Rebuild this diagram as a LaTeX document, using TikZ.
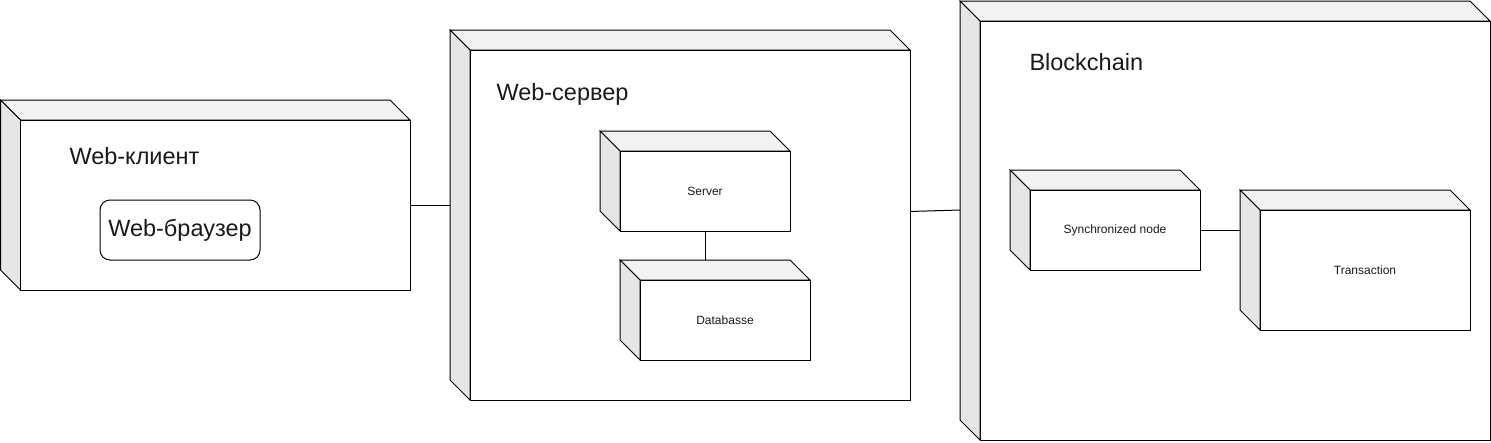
\documentclass[tikz,border=0pt]{standalone}
\usepackage{fontspec}
\setmainfont{Liberation Sans}
\usetikzlibrary{calc}
\definecolor{topc}{HTML}{F2F2F2}
\definecolor{leftc}{HTML}{E6E6E6}
\definecolor{txt}{HTML}{1A1A1A}
\newcommand{\depnode}[6]{%
  \filldraw[fill=topc] (#2-20,#3-20) -- (#4-20,#3-20) -- (#4,#3) -- (#2,#3) -- cycle;
  \filldraw[fill=leftc] (#2-20,#3-20) -- (#2,#3) -- (#2,#5) -- (#2-20,#5-20) -- cycle;
  \node[front, minimum width={(#4-#2)*1pt}, minimum height={(#5-#3)*1pt}] (#1) at (#2,#3) {};
  \node[smalllabel] (#1-text) at ($(#1.center)+(0,0.5)$) {#6};
}
\begin{document}
\begin{tikzpicture}[x=1pt,y=-1pt, line width=1pt, line join=miter,
  front/.style={draw, fill=white, rectangle, inner sep=0pt, outer sep=0pt, anchor=north west},
  smalllabel/.style={inner sep=0pt, font=\fontsize{12}{14}\selectfont, text=txt},
  biglabel/.style={anchor=base west, inner sep=0pt, font=\fontsize{23.5}{28}\selectfont, text=txt},
  browser/.style={draw, fill=white, rounded corners=10pt, minimum width=160pt, minimum height=60pt, inner sep=0pt, font=\fontsize{23.5}{28}\selectfont, text=txt},
  conn/.style={draw, line width=1pt}]
\useasboundingbox (0,0) rectangle (1491,442);

% Web-client
\depnode{wc}{20.5}{120}{410}{290}{}
\node[biglabel] (wclabel) at (69,164) {Web-клиент};
\node[browser] (wb) at (180,230) {Web-браузер};

% Web-server
\depnode{ws}{470}{50}{910}{400}{}
\node[biglabel] (wslabel) at (496,100) {Web-сервер};
\depnode{srv}{620}{151}{790}{231}{Server}
\depnode{db}{640}{280}{810}{360}{Databasse}

% Blockchain
\depnode{bc}{980}{21}{1490}{440}{}
\node[biglabel] (bclabel) at (1029,70) {Blockchain};
\depnode{sn}{1030}{190}{1200}{270}{Synchronized node}
\depnode{tx}{1260}{210}{1470}{330}{Transaction}

% connectors
\coordinate (wsleft) at (450,205);
\coordinate (dbtop) at (705,260);
\coordinate (wsright) at ($(ws.east)+(0,-13.5)$);
\coordinate (bcleft) at (960,210);
\coordinate (txleft) at (1240,230);
\draw[conn] (wc.east) -- (wsleft);
\draw[conn] (srv.south) -- (dbtop);
\draw[conn] (wsright) -- (bcleft);
\draw[conn] (sn.east) -- (txleft);
\end{tikzpicture}
\end{document}
